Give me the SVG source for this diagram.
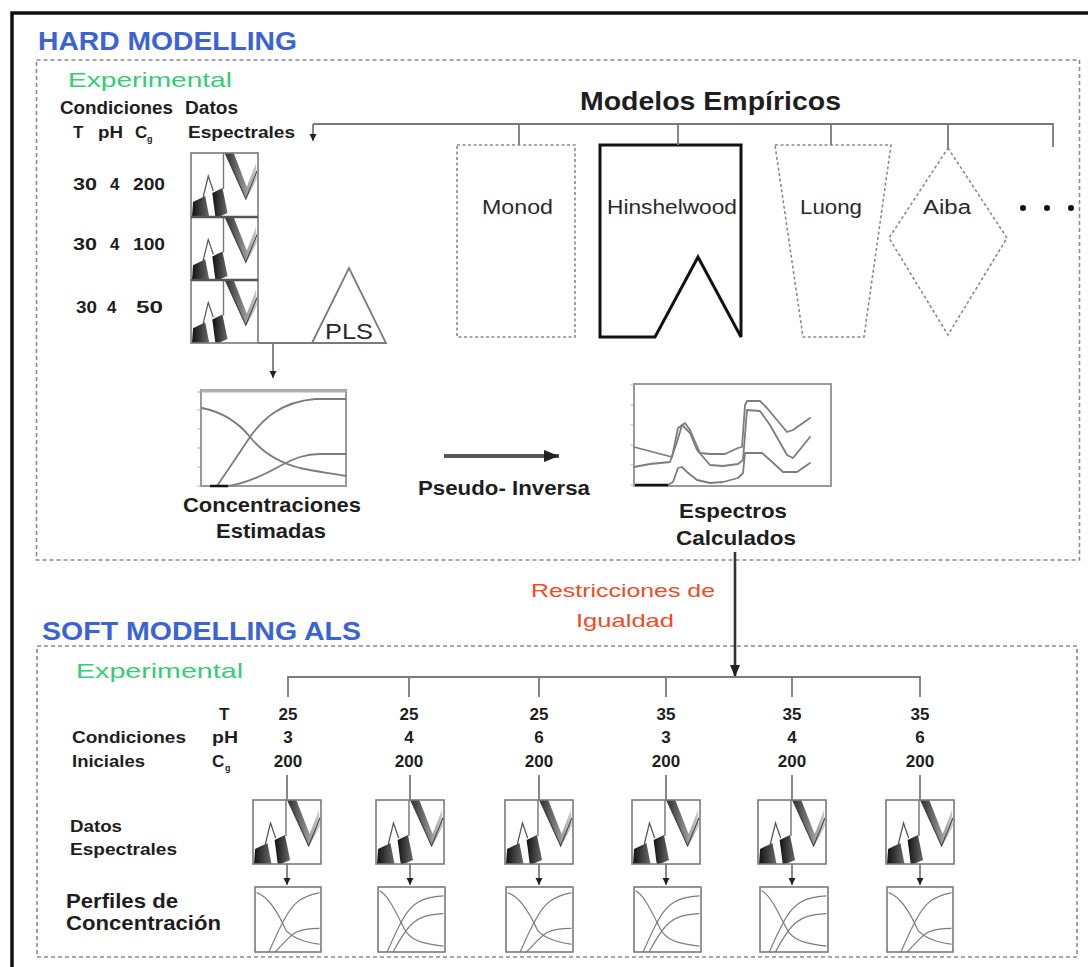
<svg xmlns="http://www.w3.org/2000/svg" width="1088" height="967" viewBox="0 0 1088 967">
<defs>
<style>
 text{font-family:"Liberation Sans",Arial,Helvetica,sans-serif;}
 .b{font-weight:bold;fill:#1e1e1e}
 .n{fill:#2a2a2a}
 .blue{font-weight:bold;fill:#3b63d4;font-size:26px}
 .green{fill:#35cc78;font-size:21px}
 .red{fill:#f04a26;font-size:19px}
 .frame{fill:none;stroke:#8a8a8a;stroke-width:1.6;stroke-dasharray:4 3}
 .dot{fill:none;stroke:#8a8a8a;stroke-width:1.6;stroke-dasharray:3 2.5}
 .wire{fill:none;stroke:#7a7a7a;stroke-width:1.8}
 .plot{fill:#fff;stroke:#9a9a9a;stroke-width:2}
 .curve{fill:none;stroke:#7c7c7c;stroke-width:1.8;stroke-linejoin:round;stroke-linecap:round}
 .box{fill:none;stroke:#7a7a7a;stroke-width:1.6}
 .thin{fill:none;stroke:#7c7c7c;stroke-width:1.2;stroke-linecap:round}
</style>
<linearGradient id="gWedge" x1="0" y1="0" x2="1" y2="0">
 <stop offset="0" stop-color="#111"/><stop offset="1" stop-color="#6a6a6a"/>
</linearGradient>
<linearGradient id="gBand" x1="0" y1="0" x2="1" y2="0">
 <stop offset="0" stop-color="#2a2a2a"/><stop offset="1" stop-color="#cfcfcf"/>
</linearGradient>
<marker id="ahS" markerWidth="8" markerHeight="8" refX="7" refY="4" orient="auto" markerUnits="userSpaceOnUse">
 <path d="M0,0.5 L7,4 L0,7.5 Z" fill="#222"/>
</marker>
<marker id="ahM" markerWidth="14" markerHeight="12" refX="12" refY="6" orient="auto" markerUnits="userSpaceOnUse">
 <path d="M0,1 L12,6 L0,11 Z" fill="#222"/>
</marker>
<marker id="ahL" markerWidth="16" markerHeight="14" refX="15" refY="7" orient="auto" markerUnits="userSpaceOnUse">
 <path d="M0,1 L15,7 L0,13 Z" fill="#222"/>
</marker>
<!-- waterfall-style spectral data icon -->
<symbol id="spec" viewBox="0 0 66 64" preserveAspectRatio="none">
 <path d="M1,64 L2,49 L14,43 L18,64 Z" fill="url(#gWedge)"/>
 <path d="M12,44 L17,23 L22,38" fill="none" stroke="#555" stroke-width="1.2"/>
 <path d="M21,40 L31,35 L36,60 L27,64 L24,64 Z" fill="url(#gWedge)"/>
 <path d="M32,0 V36" stroke="#777" stroke-width="1.4"/>
 <path d="M33,0 L42,0 L55,34 L64,10 L65,26 L54,47 Z" fill="url(#gBand)"/>
 <path d="M34,0 L54,46 L65,18" fill="none" stroke="#444" stroke-width="1"/>
</symbol>
<!-- concentration profile icons -->
<symbol id="concA" viewBox="0 0 66 66" preserveAspectRatio="none">
 <path class="thin" d="M2,6 C14,10 24,28 31,44 C38,52 50,56 64,58"/>
 <path class="thin" d="M14,66 C20,52 25,40 31,30 C37,19 44,10 64,6"/>
 <path class="thin" d="M20,66 C28,58 34,50 41,46 C47,43 52,42 64,42"/>
</symbol>
<symbol id="concB" viewBox="0 0 66 66" preserveAspectRatio="none">
 <path class="thin" d="M2,4 C12,10 20,32 28,46 C36,56 48,58 64,60"/>
 <path class="thin" d="M9,66 C15,52 20,40 26,30 C33,18 42,10 64,9"/>
 <path class="thin" d="M15,66 C22,52 28,42 35,36 C42,30 50,28 64,27"/>
</symbol>
</defs>

<rect width="1088" height="967" fill="#fff"/>
<!-- outer frame -->
<rect x="12" y="13" width="1110" height="1000" fill="none" stroke="#111" stroke-width="3.5"/>

<!-- HARD MODELLING section -->
<g id="hard-section">
 <text class="blue" x="38" y="50" textLength="259" lengthAdjust="spacingAndGlyphs">HARD MODELLING</text>
 <rect class="frame" x="36.5" y="60" width="1043" height="500"/>
 <text class="green" x="68" y="87" textLength="164" lengthAdjust="spacingAndGlyphs">Experimental</text>
</g>

<g id="conditions-top">
 <text class="b" x="60" y="114" font-size="18" textLength="113" lengthAdjust="spacingAndGlyphs">Condiciones</text>
 <text class="b" x="73" y="138" font-size="17">T</text>
 <text class="b" x="98" y="138" font-size="17" textLength="25" lengthAdjust="spacingAndGlyphs">pH</text>
 <text class="b" x="135" y="138" font-size="17">C</text>
 <text class="b" x="147" y="142" font-size="9">g</text>
 <text class="b" x="73" y="190" font-size="17" textLength="24" lengthAdjust="spacingAndGlyphs">30</text>
 <text class="b" x="110" y="190" font-size="17">4</text>
 <text class="b" x="133" y="190" font-size="17" textLength="32" lengthAdjust="spacingAndGlyphs">200</text>
 <text class="b" x="73" y="250" font-size="17" textLength="24" lengthAdjust="spacingAndGlyphs">30</text>
 <text class="b" x="110" y="250" font-size="17">4</text>
 <text class="b" x="133" y="250" font-size="17" textLength="32" lengthAdjust="spacingAndGlyphs">100</text>
 <text class="b" x="76" y="313" font-size="17" textLength="21" lengthAdjust="spacingAndGlyphs">30</text>
 <text class="b" x="107" y="313" font-size="17">4</text>
 <text class="b" x="136" y="313" font-size="17" textLength="27" lengthAdjust="spacingAndGlyphs">50</text>
</g>

<g id="spectral-data-top">
 <text class="b" x="185" y="114" font-size="18" textLength="53" lengthAdjust="spacingAndGlyphs">Datos</text>
 <text class="b" x="188" y="138" font-size="17" textLength="107" lengthAdjust="spacingAndGlyphs">Espectrales</text>
 <use href="#spec" x="191" y="153" width="67" height="64"/>
 <use href="#spec" x="191" y="217" width="67" height="63"/>
 <use href="#spec" x="191" y="280" width="67" height="63"/>
 <rect class="box" x="191" y="153" width="67" height="190" stroke-width="2"/>
 <path d="M191,217 H258 M191,280 H258" stroke="#555" stroke-width="2.5"/>
</g>

<g id="pls">
 <path d="M312,343 L349,268 L386,343 Z" fill="none" stroke="#7a7a7a" stroke-width="1.8"/>
 <text class="n" x="325" y="339" font-size="22" textLength="48" lengthAdjust="spacingAndGlyphs">PLS</text>
</g>

<g id="models">
 <text class="b" x="580" y="110" font-size="25" textLength="261" lengthAdjust="spacingAndGlyphs">Modelos Empíricos</text>
 <g id="monod">
  <rect class="dot" x="457" y="145" width="118" height="192"/>
  <text class="n" x="482" y="214" font-size="20" textLength="71" lengthAdjust="spacingAndGlyphs">Monod</text>
 </g>
 <g id="hinshelwood">
  <path d="M600,145 H741 V337 L698,257 L655,337 H600 Z" fill="none" stroke="#111" stroke-width="3" stroke-linejoin="miter"/>
  <text class="n" x="607" y="214" font-size="20" textLength="130" lengthAdjust="spacingAndGlyphs">Hinshelwood</text>
 </g>
 <g id="luong">
  <path class="dot" d="M775,145 H891 L864,337 H803 Z"/>
  <text class="n" x="800" y="214" font-size="20" textLength="62" lengthAdjust="spacingAndGlyphs">Luong</text>
 </g>
 <g id="aiba">
  <path class="dot" d="M948,148 L1007,238 L948,335 L889,238 Z"/>
  <text class="n" x="923" y="214" font-size="20" textLength="48" lengthAdjust="spacingAndGlyphs">Aiba</text>
 </g>
 <g id="more" fill="#111">
  <circle cx="1023" cy="208" r="3"/>
  <circle cx="1047" cy="208" r="3"/>
  <circle cx="1071" cy="208" r="3"/>
 </g>
</g>

<g id="conc-estimated">
 <rect class="plot" x="201" y="390" width="145" height="96"/>
 <path d="M201,391 H346" stroke="#b0b0b0" stroke-width="3"/>
 <path d="M197,392 H200 M197,410 H200 M197,429 H200 M197,448 H200 M197,467 H200 M197,486 H200" stroke="#bbb" stroke-width="1"/>
 <path class="curve" d="M202,408 C222,412 238,422 250,437 C262,452 280,463 300,468 C318,472 330,473 346,476"/>
 <path class="curve" d="M217,486 C228,470 240,452 250,437 C262,420 280,402 315,399 L346,399"/>
 <path class="curve" d="M228,486 C245,484 262,476 280,466 C295,458 305,454 320,454 L346,454"/>
 <path d="M210,486 H228" stroke="#111" stroke-width="2.5"/>
 <text class="b" x="183" y="512" font-size="21" textLength="178" lengthAdjust="spacingAndGlyphs">Concentraciones</text>
 <text class="b" x="216" y="538" font-size="21" textLength="110" lengthAdjust="spacingAndGlyphs">Estimadas</text>
</g>

<g id="pseudo-inverse-label">
 <text class="b" x="418" y="495" font-size="20" textLength="172" lengthAdjust="spacingAndGlyphs">Pseudo- Inversa</text>
</g>

<g id="spectra-calculated">
 <rect class="plot" x="634" y="384" width="197" height="102"/>
 <path d="M630,385 H633 M630,405 H633 M630,425 H633 M630,445 H633 M630,465 H633 M630,485 H633" stroke="#bbb" stroke-width="1"/>
 <polyline class="curve" points="634,447 672,457 678,428 685,423 690,430 700,453 710,454 725,454 738,448 742,447 745,405 747,401 760,401 767,408 787,432 793,430 810,418"/>
 <polyline class="curve" points="634,467 650,464 670,462 677,442 682,425 690,433 697,450 710,465 723,466 738,464 743,460 747,410 760,411 770,425 787,455 793,458 802,447 810,437"/>
 <polyline class="curve" points="668,485 673,482 678,468 682,467 687,472 697,480 710,483 723,482 738,478 743,473 745,453 762,453 770,460 783,472 797,472 810,463"/>
 <path d="M635,485 H668" stroke="#111" stroke-width="2.5"/>
 <text class="b" x="679" y="518" font-size="21" textLength="108" lengthAdjust="spacingAndGlyphs">Espectros</text>
 <text class="b" x="676" y="545" font-size="21" textLength="120" lengthAdjust="spacingAndGlyphs">Calculados</text>
</g>

<g id="equality-constraints">
 <text class="red" x="531" y="597" textLength="184" lengthAdjust="spacingAndGlyphs">Restricciones de</text>
 <text class="red" x="576" y="627" textLength="98" lengthAdjust="spacingAndGlyphs">Igualdad</text>
</g>

<!-- SOFT MODELLING ALS section -->
<g id="soft-section">
 <text class="blue" x="42" y="640" textLength="319" lengthAdjust="spacingAndGlyphs">SOFT MODELLING ALS</text>
 <rect class="frame" x="37" y="646" width="1040" height="311"/>
 <text class="green" x="76" y="678" textLength="167" lengthAdjust="spacingAndGlyphs">Experimental</text>
</g>

<g id="conditions-bottom">
 <text class="b" x="72" y="743" font-size="17" textLength="114" lengthAdjust="spacingAndGlyphs">Condiciones</text>
 <text class="b" x="72" y="767" font-size="17" textLength="73" lengthAdjust="spacingAndGlyphs">Iniciales</text>
 <text class="b" x="219" y="720" font-size="17">T</text>
 <text class="b" x="212" y="743" font-size="17" textLength="26" lengthAdjust="spacingAndGlyphs">pH</text>
 <text class="b" x="212" y="767" font-size="17">C</text>
 <text class="b" x="225" y="771" font-size="9">g</text>
 <g font-size="17" class="b" text-anchor="middle">
  <text class="b" x="288" y="720">25</text><text class="b" x="288" y="743">3</text><text class="b" x="288" y="767">200</text>
  <text class="b" x="409" y="720">25</text><text class="b" x="409" y="743">4</text><text class="b" x="409" y="767">200</text>
  <text class="b" x="539" y="720">25</text><text class="b" x="539" y="743">6</text><text class="b" x="539" y="767">200</text>
  <text class="b" x="666" y="720">35</text><text class="b" x="666" y="743">3</text><text class="b" x="666" y="767">200</text>
  <text class="b" x="792" y="720">35</text><text class="b" x="792" y="743">4</text><text class="b" x="792" y="767">200</text>
  <text class="b" x="920" y="720">35</text><text class="b" x="920" y="743">6</text><text class="b" x="920" y="767">200</text>
 </g>
</g>

<g id="spectral-data-bottom">
 <text class="b" x="70" y="832" font-size="17" textLength="52" lengthAdjust="spacingAndGlyphs">Datos</text>
 <text class="b" x="70" y="855" font-size="17" textLength="107" lengthAdjust="spacingAndGlyphs">Espectrales</text>
 <g id="spec-1"><use href="#spec" x="253" y="800" width="68" height="64"/><rect class="box" x="253" y="800" width="68" height="64"/></g>
 <g id="spec-2"><use href="#spec" x="376" y="800" width="68" height="64"/><rect class="box" x="376" y="800" width="68" height="64"/></g>
 <g id="spec-3"><use href="#spec" x="505" y="800" width="68" height="64"/><rect class="box" x="505" y="800" width="68" height="64"/></g>
 <g id="spec-4"><use href="#spec" x="632" y="800" width="68" height="64"/><rect class="box" x="632" y="800" width="68" height="64"/></g>
 <g id="spec-5"><use href="#spec" x="758" y="800" width="68" height="64"/><rect class="box" x="758" y="800" width="68" height="64"/></g>
 <g id="spec-6"><use href="#spec" x="886" y="800" width="68" height="64"/><rect class="box" x="886" y="800" width="68" height="64"/></g>
</g>

<g id="conc-profiles">
 <text class="b" x="66" y="908" font-size="21" textLength="112" lengthAdjust="spacingAndGlyphs">Perfiles de</text>
 <text class="b" x="66" y="930" font-size="21" textLength="155" lengthAdjust="spacingAndGlyphs">Concentración</text>
 <g id="conc-1"><use href="#concA" x="255" y="887" width="66" height="65"/><rect class="box" x="255" y="887" width="66" height="65"/></g>
 <g id="conc-2"><use href="#concB" x="378" y="887" width="67" height="65"/><rect class="box" x="378" y="887" width="67" height="65"/></g>
 <g id="conc-3"><use href="#concA" x="506" y="887" width="67" height="65"/><rect class="box" x="506" y="887" width="67" height="65"/></g>
 <g id="conc-4"><use href="#concB" x="634" y="887" width="67" height="65"/><rect class="box" x="634" y="887" width="67" height="65"/></g>
 <g id="conc-5"><use href="#concB" x="760" y="887" width="68" height="65"/><rect class="box" x="760" y="887" width="68" height="65"/></g>
 <g id="conc-6"><use href="#concA" x="887" y="887" width="66" height="65"/><rect class="box" x="887" y="887" width="66" height="65"/></g>
</g>

<g id="connectors">
 <!-- model tree -->
 <path class="wire" d="M313,124 H1053 V147 M519,124 V145 M678,124 V145 M831,124 V145 M948,124 V148"/>
 <path class="wire" d="M313,124 V141" marker-end="url(#ahS)"/>
 <!-- spectra to PLS and estimated concentrations -->
 <path class="wire" d="M258,343 H312"/>
 <path class="wire" d="M273,343 V378" stroke="#444" marker-end="url(#ahS)"/>
 <!-- pseudo-inverse -->
 <path d="M444,456 H559" fill="none" stroke="#555" stroke-width="4" marker-end="url(#ahL)"/>
 <!-- equality constraints into ALS -->
 <path d="M735,552 V677" fill="none" stroke="#333" stroke-width="2.6" marker-end="url(#ahM)"/>
 <!-- experiment tree -->
 <path class="wire" d="M288,697 V677 H920 V697 M409,677 V697 M539,677 V697 M666,677 V697 M792,677 V697"/>
 <path class="wire" d="M287,775 V800 M410,775 V800 M539,775 V800 M666,775 V800 M792,775 V800 M920,775 V800"/>
 <g class="wire" stroke="#444" stroke-width="1.3">
  <path d="M287,864 V885" marker-end="url(#ahS)"/>
  <path d="M410,864 V885" marker-end="url(#ahS)"/>
  <path d="M539,864 V885" marker-end="url(#ahS)"/>
  <path d="M666,864 V885" marker-end="url(#ahS)"/>
  <path d="M792,864 V885" marker-end="url(#ahS)"/>
  <path d="M920,864 V885" marker-end="url(#ahS)"/>
 </g>
</g>
</svg>
